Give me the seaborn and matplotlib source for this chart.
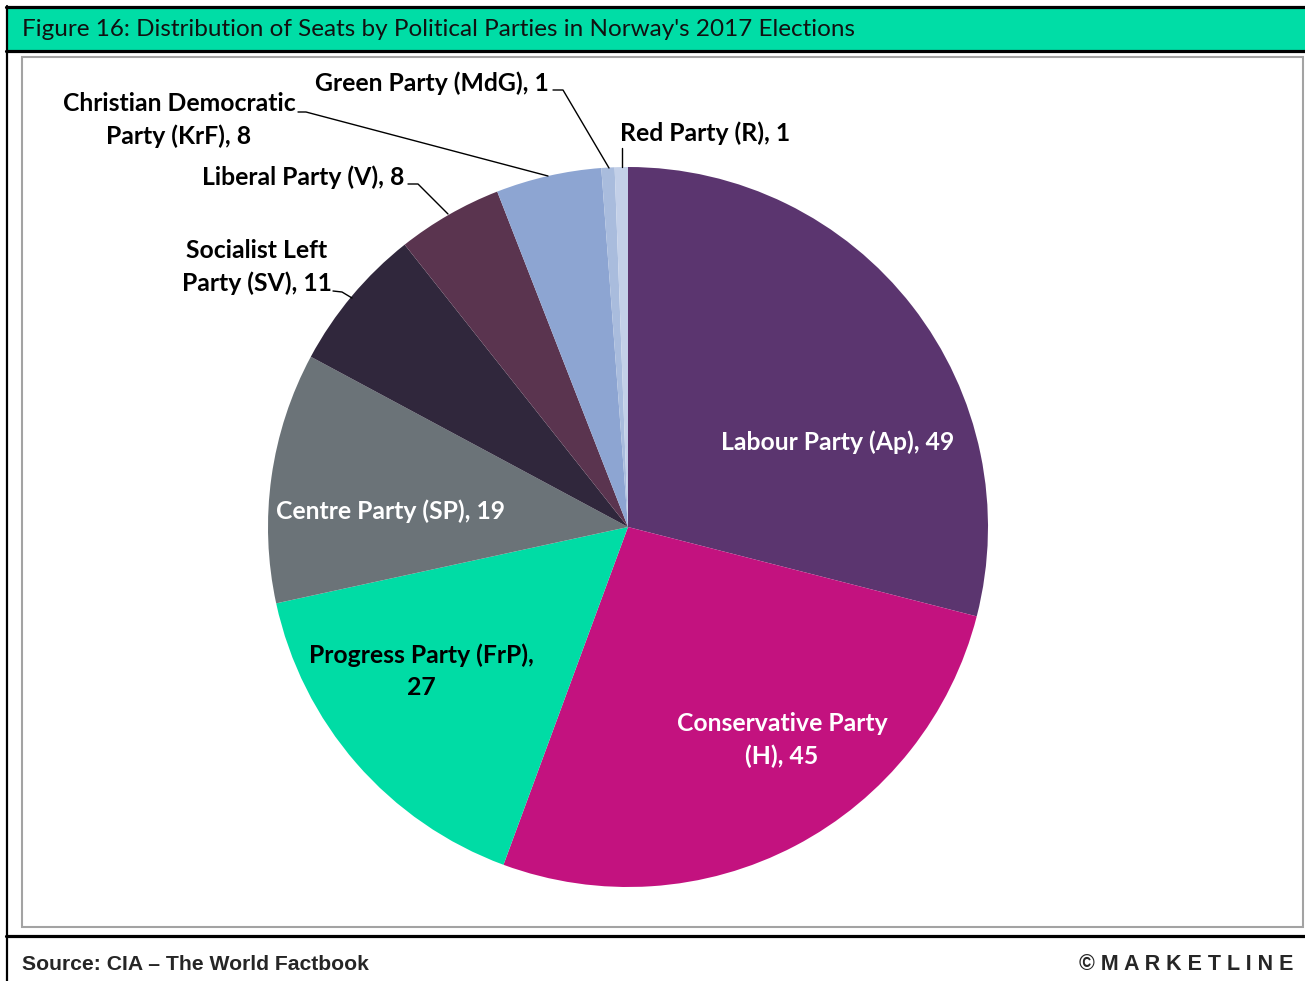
import matplotlib
matplotlib.use("Agg")
import matplotlib.pyplot as plt
from matplotlib.patches import Rectangle
from matplotlib.lines import Line2D
import seaborn as sns

sns.set_theme(style="white")
plt.rcParams["font.family"] = ["Lato", "DejaVu Sans"]

# Seats won per party, 2017 Storting election
parties = ["Labour Party (Ap)", "Conservative Party (H)", "Progress Party (FrP)",
           "Centre Party (SP)", "Socialist Left Party (SV)", "Liberal Party (V)",
           "Christian Democratic Party (KrF)", "Green Party (MdG)", "Red Party (R)"]
seats = [49, 45, 27, 19, 11, 8, 8, 1, 1]
label_texts = ["Labour Party (Ap), 49", "Conservative Party\n(H), 45",
               "Progress Party (FrP),\n27", "Centre Party (SP), 19",
               "Socialist Left\nParty (SV), 11", "Liberal Party (V), 8",
               "Christian Democratic\nParty (KrF), 8", "Green Party (MdG), 1",
               "Red Party (R), 1"]
slice_colors = ["#5B356F", "#C3127F", "#00DCA5", "#6B7378", "#30273C",
                "#5A344F", "#8DA5D2", "#A9BCDD", "#C3D0E8"]

W, H = 1305, 981
fig = plt.figure(figsize=(W / 100, H / 100), dpi=100)
fig.patch.set_facecolor("white")


def fx(px):
    return px / W


def fy(py):
    return 1 - py / H


# Header band and frame
fig.add_artist(Rectangle((fx(7), fy(51)), fx(W) - fx(7), fy(7) - fy(51),
                         transform=fig.transFigure, facecolor="#00DDA6",
                         edgecolor="none", zorder=0))
for y in (7, 51, 936):
    fig.add_artist(Line2D([fx(6), 1], [fy(y), fy(y)], transform=fig.transFigure,
                          color="black", lw=2.3))
fig.add_artist(Line2D([fx(7), fx(7)], [fy(6), 0], transform=fig.transFigure,
                      color="black", lw=1.6))
fig.add_artist(Rectangle((fx(22), fy(927)), fx(1303) - fx(22), fy(57) - fy(927),
                         transform=fig.transFigure, facecolor="none",
                         edgecolor="#A3A3A3", lw=1.5))

fig.text(fx(22), fy(30), "Figure 16: Distribution of Seats by Political Parties in Norway's 2017 Elections",
         fontsize=17.5, va="center", ha="left", color="#111111")
fig.text(fx(22), fy(965), "Source: CIA \u2013 The World Factbook", family="Liberation Sans",
         fontsize=15.2, fontweight="bold", va="center", ha="left")
fig.text(fx(1293), fy(965), "\u00a9 M A R K E T L I N E", family="Liberation Sans",
         fontsize=15.5, fontweight="bold", va="center", ha="right")

# Pie axes
cx, cy, r = 628, 527, 360
ax = fig.add_axes([fx(cx - r), fy(cy + r), fx(2 * r), (2 * r) / H])
ax.pie(seats, colors=slice_colors, startangle=90, counterclock=False,
       radius=1.0, wedgeprops=dict(linewidth=0))
ax.set_xlim(-1, 1)
ax.set_ylim(-1, 1)
ax.set_aspect("equal")
ax.axis("off")


def d(px, py):
    return ((px - cx) / r, (cy - py) / r)


# Label positions (text centres) and leader lines
label_pos = [d(838, 442), d(782, 740), d(421, 671), d(390, 511), d(257, 267),
             d(303, 177), d(179, 120), d(432, 83), d(705, 133)]
label_color = ["white", "white", "black", "white", "black", "black", "black",
               "black", "black"]
for txt, (x, y), c in zip(label_texts, label_pos, label_color):
    ax.text(x, y, txt, ha="center", va="center", color=c, fontsize=17.8,
            fontweight="bold", linespacing=1.5, clip_on=False)

leaders = [
    [(333, 291), (342, 292), (352, 298)],
    [(408, 184), (418, 184), (448, 214)],
    [(298, 112), (306, 112), (548, 176)],
    [(553, 90), (563, 90), (609, 168)],
    [(622, 148), (622, 167)],
]
for pts in leaders:
    xs, ys = zip(*[d(*p) for p in pts])
    ax.plot(xs, ys, color="black", lw=1.0, clip_on=False)

fig.savefig("out.png", dpi=100, facecolor="white")
